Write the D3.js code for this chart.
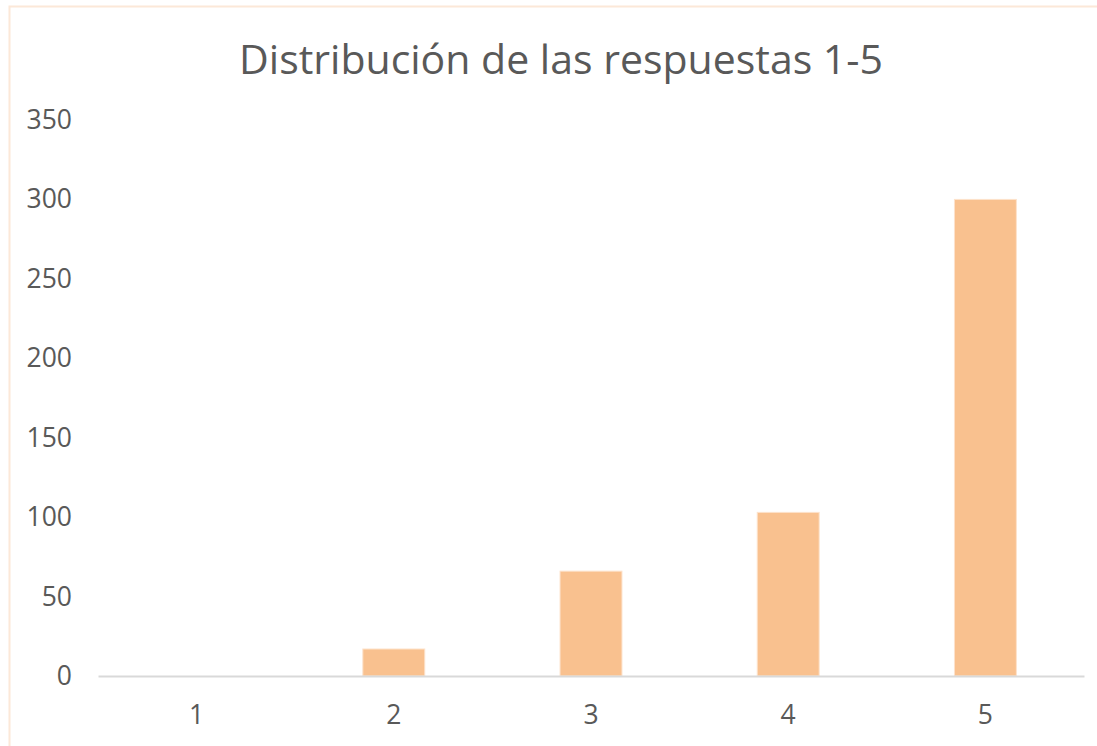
<!DOCTYPE html>
<html>
<head>
<meta charset="utf-8">
<script src="https://cdn.jsdelivr.net/npm/d3@7"></script>
<style>
	body { margin: 0; background: #fff; }
	svg { display: block; font-family: 'Open Sans', sans-serif; }
</style>
</head>
<body>
<svg width="1097" height="746"></svg>
<script>

// datos
const categories = [ '1', '2', '3', '4', '5' ],
	values = [ 0, 17, 66, 103, 300 ],
	yTicks = [ 0, 50, 100, 150, 200, 250, 300, 350 ],
	title = 'Distribución de las respuestas 1-5'

const svg = d3.select( 'svg' ),
	width = parseInt( svg.attr( 'width' ) ),
	height = parseInt( svg.attr( 'height' ) ),
	textColor = '#595959'

// borde del area del grafico
svg.append( 'rect' )
	.attr( 'x', 9.5 )
	.attr( 'y', 6.5 )
	.attr( 'width', width + 10 )
	.attr( 'height', height + 10 )
	.attr( 'fill', '#fff' )
	.attr( 'stroke', '#FCE8D8' )
	.attr( 'stroke-width', 2 )

const x = d3.scaleBand()
	.domain( categories )
	.range( [ 98, 1084 ] )
	.paddingInner( 0.686 )
	.paddingOuter( 0.343 )

const y = d3.scaleLinear()
	.domain( [ 0, 350 ] )
	.range( [ 676, 120 ] )

svg.append( 'text' )
	.attr( 'x', 561 )
	.attr( 'y', 74 )
	.attr( 'text-anchor', 'middle' )
	.attr( 'fill', textColor )
	.attr( 'font-size', 41 )
	.text( title )

// eje y, solo etiquetas
const yAxis = svg.append( 'g' )
	.attr( 'transform', 'translate(72,0)' )
	.call( d3.axisLeft( y ).tickValues( yTicks ).tickSize( 0 ).tickPadding( 0 ) )

yAxis.select( '.domain' ).remove()
yAxis.selectAll( 'text' )
	.attr( 'fill', textColor )
	.attr( 'font-size', 26.5 )
	.attr( 'font-family', "'Open Sans', sans-serif" )

svg.append( 'g' )
	.selectAll( 'rect' )
	.data( values )
	.enter()
	.append( 'rect' )
	.attr( 'x', ( d, i ) => x( categories[ i ] ) )
	.attr( 'y', d => y( d ) )
	.attr( 'width', x.bandwidth() )
	.attr( 'height', d => y( 0 ) - y( d ) )
	.attr( 'fill', '#F9C18F' )
	.attr( 'stroke', '#FDE2CB' )
	.attr( 'stroke-width', 1 )

// eje x
const xAxis = svg.append( 'g' )
	.attr( 'transform', `translate(0,${ y( 0 ) })` )
	.call( d3.axisBottom( x ).tickSize( 0 ).tickPadding( 29 ) )

xAxis.select( '.domain' )
	.attr( 'stroke', '#D9D9D9' )
	.attr( 'stroke-width', 2 )
xAxis.selectAll( 'text' )
	.attr( 'fill', textColor )
	.attr( 'font-size', 26.5 )
	.attr( 'font-family', "'Open Sans', sans-serif" )

</script>
</body>
</html>
